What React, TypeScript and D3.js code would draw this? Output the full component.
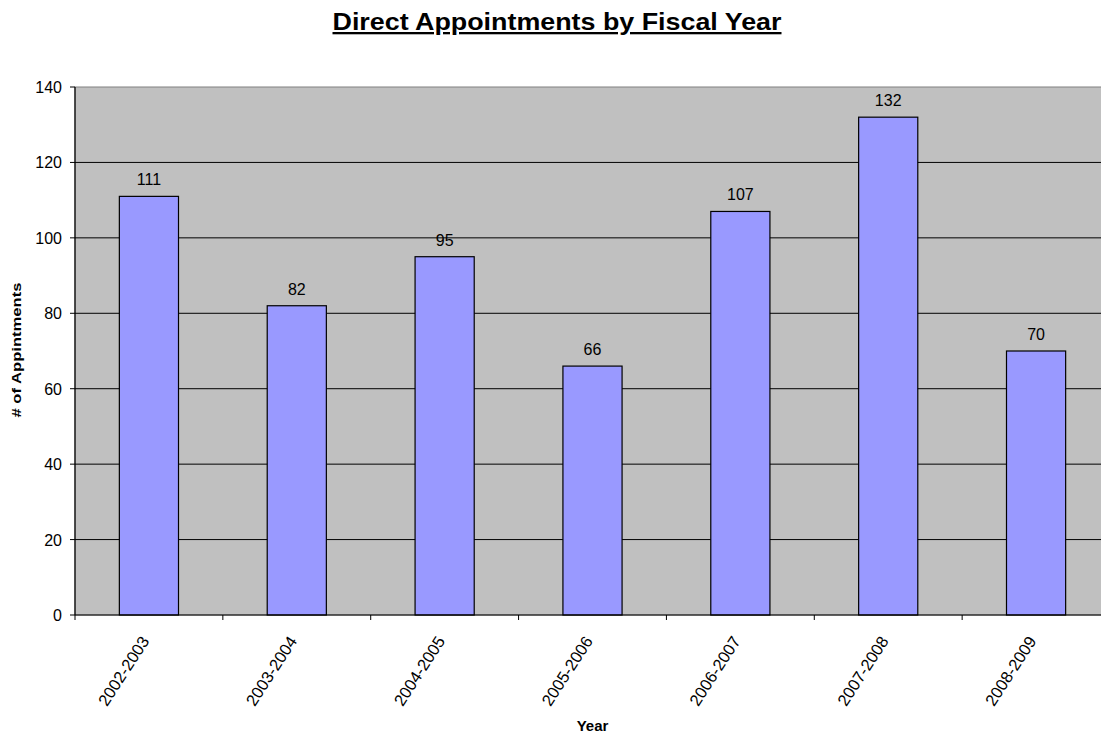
import React from "react";
import * as d3 from "d3";

const categories = ["2002-2003", "2003-2004", "2004-2005", "2005-2006", "2006-2007", "2007-2008", "2008-2009"];
const values = [111, 82, 95, 66, 107, 132, 70];
const yTicks = [0, 20, 40, 60, 80, 100, 120, 140];

const W = 1101;
const H = 735;
const left = 75;
const right = 1110;
const top = 87;
const bottom = 615;

export default function App() {
  const x = d3.scaleBand<string>().domain(categories).range([left, right]).paddingInner(0.6).paddingOuter(0.3);
  const band = d3.scaleBand<string>().domain(categories).range([left, right]);
  const y = d3.scaleLinear().domain([0, 140]).range([bottom, top]);
  const font = "Arial, 'Liberation Sans', sans-serif";
  return (
    <svg width={W} height={H} style={{ position: "absolute", left: 0, top: 0 }} fontFamily={font}>
      <rect x={0} y={0} width={W} height={H} fill="#fff" />
      <text x={557} y={30} textAnchor="middle" fontSize={23} fontWeight="bold" textDecoration="underline"
        textLength={449} lengthAdjust="spacingAndGlyphs">
        Direct Appointments by Fiscal Year
      </text>
      <rect x={left} y={top} width={right - left} height={bottom - top} fill="#C0C0C0" stroke="#808080" strokeWidth={1} />
      {yTicks.filter(t => t > 0 && t < 140).map(t => (
        <line key={t} x1={left} x2={right} y1={y(t)} y2={y(t)} stroke="#000" strokeWidth={1} />
      ))}
      {categories.map((c, i) => (
        <g key={c}>
          <rect x={x(c)} y={y(values[i])} width={x.bandwidth()} height={bottom - y(values[i])} fill="#9999FF" stroke="#000" strokeWidth={1.2} />
          <text x={x(c)! + x.bandwidth() / 2} y={y(values[i]) - 11} textAnchor="middle" fontSize={16}>{values[i]}</text>
        </g>
      ))}
      <line x1={left} x2={left} y1={top} y2={bottom} stroke="#000" strokeWidth={1.2} />
      <line x1={left} x2={right} y1={bottom} y2={bottom} stroke="#000" strokeWidth={1.2} />
      {yTicks.map(t => (
        <g key={t}>
          <line x1={left - 5} x2={left} y1={y(t)} y2={y(t)} stroke="#000" />
          <text x={62} y={y(t) + 6} textAnchor="end" fontSize={16}>{t}</text>
        </g>
      ))}
      {categories.map(c => (
        <line key={"t" + c} x1={band(c)} x2={band(c)} y1={bottom} y2={bottom + 5} stroke="#000" />
      ))}
      {categories.map(c => {
        const cx = band(c)! + band.bandwidth() / 2;
        return (
          <text key={"l" + c} transform={`translate(${cx + 1},${bottom + 26}) rotate(-57)`} textAnchor="end" fontSize={16.5}>{c}</text>
        );
      })}
      <text x={(left + right) / 2} y={731} textAnchor="middle" fontSize={15} fontWeight="bold">Year</text>
      <text transform={`translate(21,350) rotate(-90)`} textAnchor="middle" fontSize={13.5} fontWeight="bold"
        textLength={135} lengthAdjust="spacingAndGlyphs"># of Appintments</text>
    </svg>
  );
}
